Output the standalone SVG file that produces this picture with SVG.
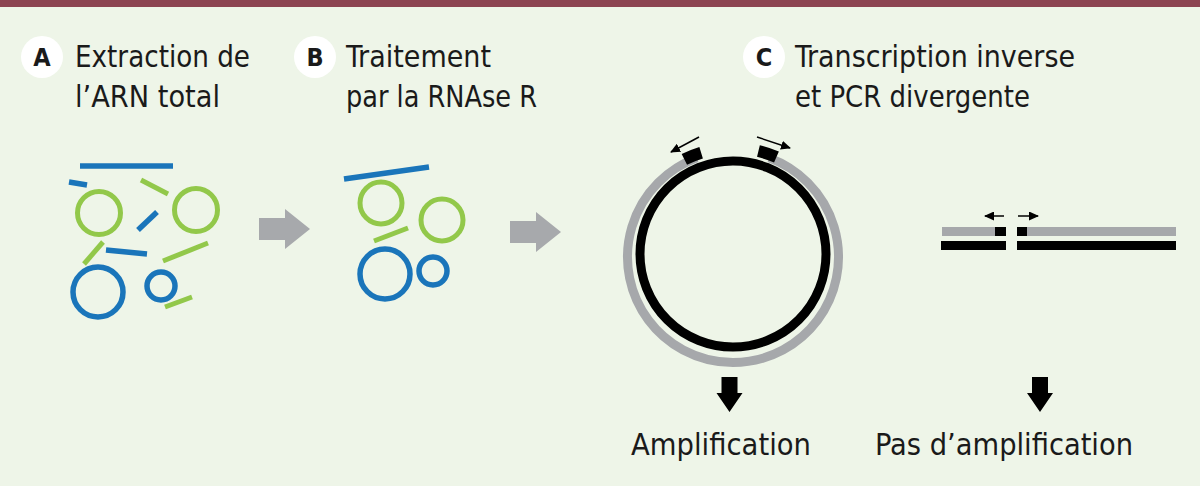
<svg xmlns="http://www.w3.org/2000/svg" width="1200" height="486" viewBox="0 0 1200 486">
<defs>
<style>
.bg{fill:#EEF5E8}
.bar{fill:#8C4451}
.badge{fill:#FFFFFF}
.letter{font-family:"DejaVu Sans Condensed","DejaVu Sans","Liberation Sans",sans-serif;font-stretch:condensed;font-weight:bold;font-size:25px;fill:#1a1a1a;text-anchor:middle}
.lbl{font-family:"DejaVu Sans Condensed","DejaVu Sans","Liberation Sans",sans-serif;font-stretch:condensed;font-size:30.5px;fill:#1a1a1a}
.g{fill:none;stroke:#92C84A;stroke-width:5}
.b{fill:none;stroke:#1A75BA;stroke-width:5.5}
.garrow{fill:#A7A9AC}
.ring{fill:none;stroke:#A6A8AB;stroke-width:9}
.dna{fill:none;stroke:#000;stroke-width:9}
.primer{fill:none;stroke:#000;stroke-width:12}
.thin{fill:none;stroke:#000;stroke-width:1.5;marker-end:url(#ah)}
.barg{fill:#A6A8AB}
.bark{fill:#000}
</style>
<marker id="ah" viewBox="0 0 10 9" refX="9" refY="4.5" markerWidth="10" markerHeight="9" markerUnits="userSpaceOnUse" orient="auto">
<path d="M0,0 L10,4.5 L0,9 Z" fill="#000"/>
</marker>
</defs>
<rect class="bg" x="0" y="0" width="1200" height="486"/>
<rect class="bar" x="0" y="0" width="1200" height="7"/>

<g id="stepA">
<circle class="badge" cx="42" cy="57" r="21"/>
<text class="letter" x="42" y="66">A</text>
<text class="lbl" x="75" y="67" textLength="175" lengthAdjust="spacingAndGlyphs">Extraction de</text>
<text class="lbl" x="75" y="107" textLength="145" lengthAdjust="spacingAndGlyphs">l’ARN total</text>
</g>
<g id="stepB">
<circle class="badge" cx="315" cy="57" r="21"/>
<text class="letter" x="315" y="66">B</text>
<text class="lbl" x="346" y="67" textLength="145" lengthAdjust="spacingAndGlyphs">Traitement</text>
<text class="lbl" x="346" y="107" textLength="191" lengthAdjust="spacingAndGlyphs">par la RNAse R</text>
</g>
<g id="stepC">
<circle class="badge" cx="764" cy="57" r="21"/>
<text class="letter" x="764" y="66">C</text>
<text class="lbl" x="795" y="67" textLength="280" lengthAdjust="spacingAndGlyphs">Transcription inverse</text>
<text class="lbl" x="795" y="107" textLength="235" lengthAdjust="spacingAndGlyphs">et PCR divergente</text>
</g>

<g id="totalRNA">
<line class="b" x1="80" y1="166" x2="173" y2="166"/>
<line class="b" x1="69" y1="182" x2="87" y2="185"/>
<line class="g" x1="141" y1="180" x2="168" y2="194"/>
<circle class="g" cx="99" cy="213" r="21.5"/>
<circle class="g" cx="196" cy="210" r="21.5"/>
<line class="b" x1="138" y1="230" x2="157" y2="212"/>
<line class="g" x1="103" y1="242" x2="84" y2="264"/>
<line class="b" x1="106" y1="250" x2="147" y2="254"/>
<line class="g" x1="163" y1="261" x2="208" y2="243"/>
<circle class="b" cx="98" cy="292" r="25"/>
<circle class="b" cx="161" cy="286" r="14"/>
<line class="g" x1="165" y1="307" x2="192" y2="297"/>
</g>
<g id="arrowAB">
<polygon class="garrow" points="259,218 285,218 285,209 310,229 285,249 285,240 259,240"/>
</g>
<g id="treatedRNA">
<line class="b" x1="344" y1="179" x2="429" y2="167"/>
<circle class="g" cx="381" cy="203" r="21"/>
<circle class="g" cx="442" cy="220" r="21"/>
<line class="g" x1="374" y1="241" x2="408" y2="228"/>
<circle class="b" cx="385" cy="274" r="25"/>
<circle class="b" cx="433" cy="271" r="14"/>
</g>
<g id="arrowBC">
<polygon class="garrow" points="510,221 536,221 536,212 561,232 536,252 536,243 510,243"/>
</g>

<g id="circularRNA">
<path class="ring" d="M 769.08 157.86 A 105.5 105.5 0 1 1 696.92 157.86"/>
<circle class="dna" cx="733" cy="254" r="93"/>
<path class="primer" d="M 684.36 159.46 A 109 109 0 0 1 701.13 152.76"/>
<path class="primer" d="M 758.44 151.01 A 109 109 0 0 1 776.46 157.04"/>
<line class="thin" x1="699" y1="137" x2="671" y2="152"/>
<line class="thin" x1="757" y1="137" x2="790" y2="148"/>
</g>

<g id="linearRNA">
<rect class="barg" x="942" y="227" width="64" height="9"/>
<rect class="bark" x="995" y="227" width="11" height="9"/>
<rect class="barg" x="1017" y="227" width="159" height="9"/>
<rect class="bark" x="1017" y="227" width="10" height="9"/>
<rect class="bark" x="941" y="241" width="65" height="9"/>
<rect class="bark" x="1017" y="241" width="159" height="9"/>
<line class="thin" x1="1004" y1="216" x2="985" y2="216"/>
<line class="thin" x1="1018" y1="216" x2="1038" y2="216"/>
</g>

<g id="connectors">
<polygon class="bark" points="721.5,377 737.5,377 737.5,393 742.5,393 729.5,412 716.5,393 721.5,393"/>
<polygon class="bark" points="1032,377 1048,377 1048,393 1053,393 1040,412 1027,393 1032,393"/>
</g>

<g id="results">
<text class="lbl" x="631" y="455" textLength="180" lengthAdjust="spacingAndGlyphs">Amplification</text>
<text class="lbl" x="875" y="455" textLength="258" lengthAdjust="spacingAndGlyphs">Pas d’amplification</text>
</g>
</svg>
